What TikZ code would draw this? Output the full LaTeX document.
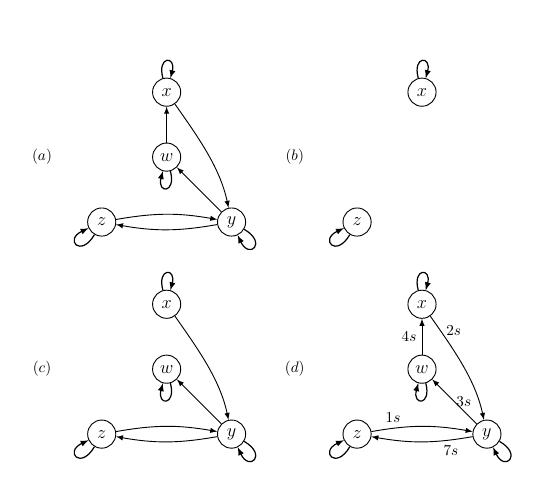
\documentclass[tikz,border=0pt]{standalone}
\usetikzlibrary{arrows}
\begin{document}
\begin{tikzpicture}[
    state/.style={circle,draw,semithick,minimum size=0.65cm,inner sep=0pt,font=\large},
    arc/.style={semithick,->,>=latex},
    selfloop/.style={thick,->,>=latex}
  ]
  \useasboundingbox (0,0) rectangle (12.43,11.53);
  % (a)
  \node (La) at (0.97,7.9) {$(a)$};
  \node[state] (Xa) at (3.85,9.4) {$x$};
  \node[state] (Wa) at (3.85,7.9) {$w$};
  \node[state] (Za) at (2.35,6.4) {$z$};
  \node[state] (Ya) at (5.35,6.4) {$y$};
  \draw[selfloop] (Xa) to[loop above] (Xa);
  \draw[selfloop] (Wa) to[loop below] (Wa);
  \draw[selfloop] (Za) to[out=240,in=205,loop] (Za);
  \draw[selfloop] (Ya) to[out=-30,in=-65,loop] (Ya);
  \draw[arc] (Wa) -- (Xa);
  \draw[arc] (Xa) to[out=-55,in=102,looseness=0.9] (Ya);
  \draw[arc] (Ya) -- (Wa);
  \draw[arc] (Za) to[bend left=10] (Ya);
  \draw[arc] (Ya) to[bend left=10] (Za);
  % (b)
  \node (Lb) at (6.81,7.9) {$(b)$};
  \node[state] (Xb) at (9.75,9.4) {$x$};
  \node[state] (Zb) at (8.25,6.4) {$z$};
  \draw[selfloop] (Xb) to[loop above] (Xb);
  \draw[selfloop] (Zb) to[out=240,in=205,loop] (Zb);
  % (c)
  \node (Lc) at (0.97,3.0) {$(c)$};
  \node[state] (Xc) at (3.85,4.5) {$x$};
  \node[state] (Wc) at (3.85,3.0) {$w$};
  \node[state] (Zc) at (2.35,1.5) {$z$};
  \node[state] (Yc) at (5.35,1.5) {$y$};
  \draw[selfloop] (Xc) to[loop above] (Xc);
  \draw[selfloop] (Wc) to[loop below] (Wc);
  \draw[selfloop] (Zc) to[out=240,in=205,loop] (Zc);
  \draw[selfloop] (Yc) to[out=-30,in=-65,loop] (Yc);
  \draw[arc] (Xc) to[out=-55,in=102,looseness=0.9] (Yc);
  \draw[arc] (Yc) -- (Wc);
  \draw[arc] (Zc) to[bend left=10] (Yc);
  \draw[arc] (Yc) to[bend left=10] (Zc);
  % (d)
  \node (Ld) at (6.81,3.0) {$(d)$};
  \node[state] (Xd) at (9.75,4.5) {$x$};
  \node[state] (Wd) at (9.75,3.0) {$w$};
  \node[state] (Zd) at (8.25,1.5) {$z$};
  \node[state] (Yd) at (11.25,1.5) {$y$};
  \draw[selfloop] (Xd) to[loop above] (Xd);
  \draw[selfloop] (Wd) to[loop below] (Wd);
  \draw[selfloop] (Zd) to[out=240,in=205,loop] (Zd);
  \draw[selfloop] (Yd) to[out=-30,in=-65,loop] (Yd);
  \draw[arc] (Wd) -- (Xd) node[left,midway] {$4s$};
  \draw[arc] (Xd) to[out=-55,in=102,looseness=0.9] node[pos=0.15,right] {$2s$} (Yd);
  \draw[arc] (Yd) -- (Wd) node[right,midway,inner sep=1pt] {$3s$};
  \draw[arc] (Zd) to[bend left=10] node[pos=0.2,above] {$1s$} (Yd);
  \draw[arc] (Yd) to[bend left=10] node[pos=0.2,below] {$7s$} (Zd);
\end{tikzpicture}
\end{document}
